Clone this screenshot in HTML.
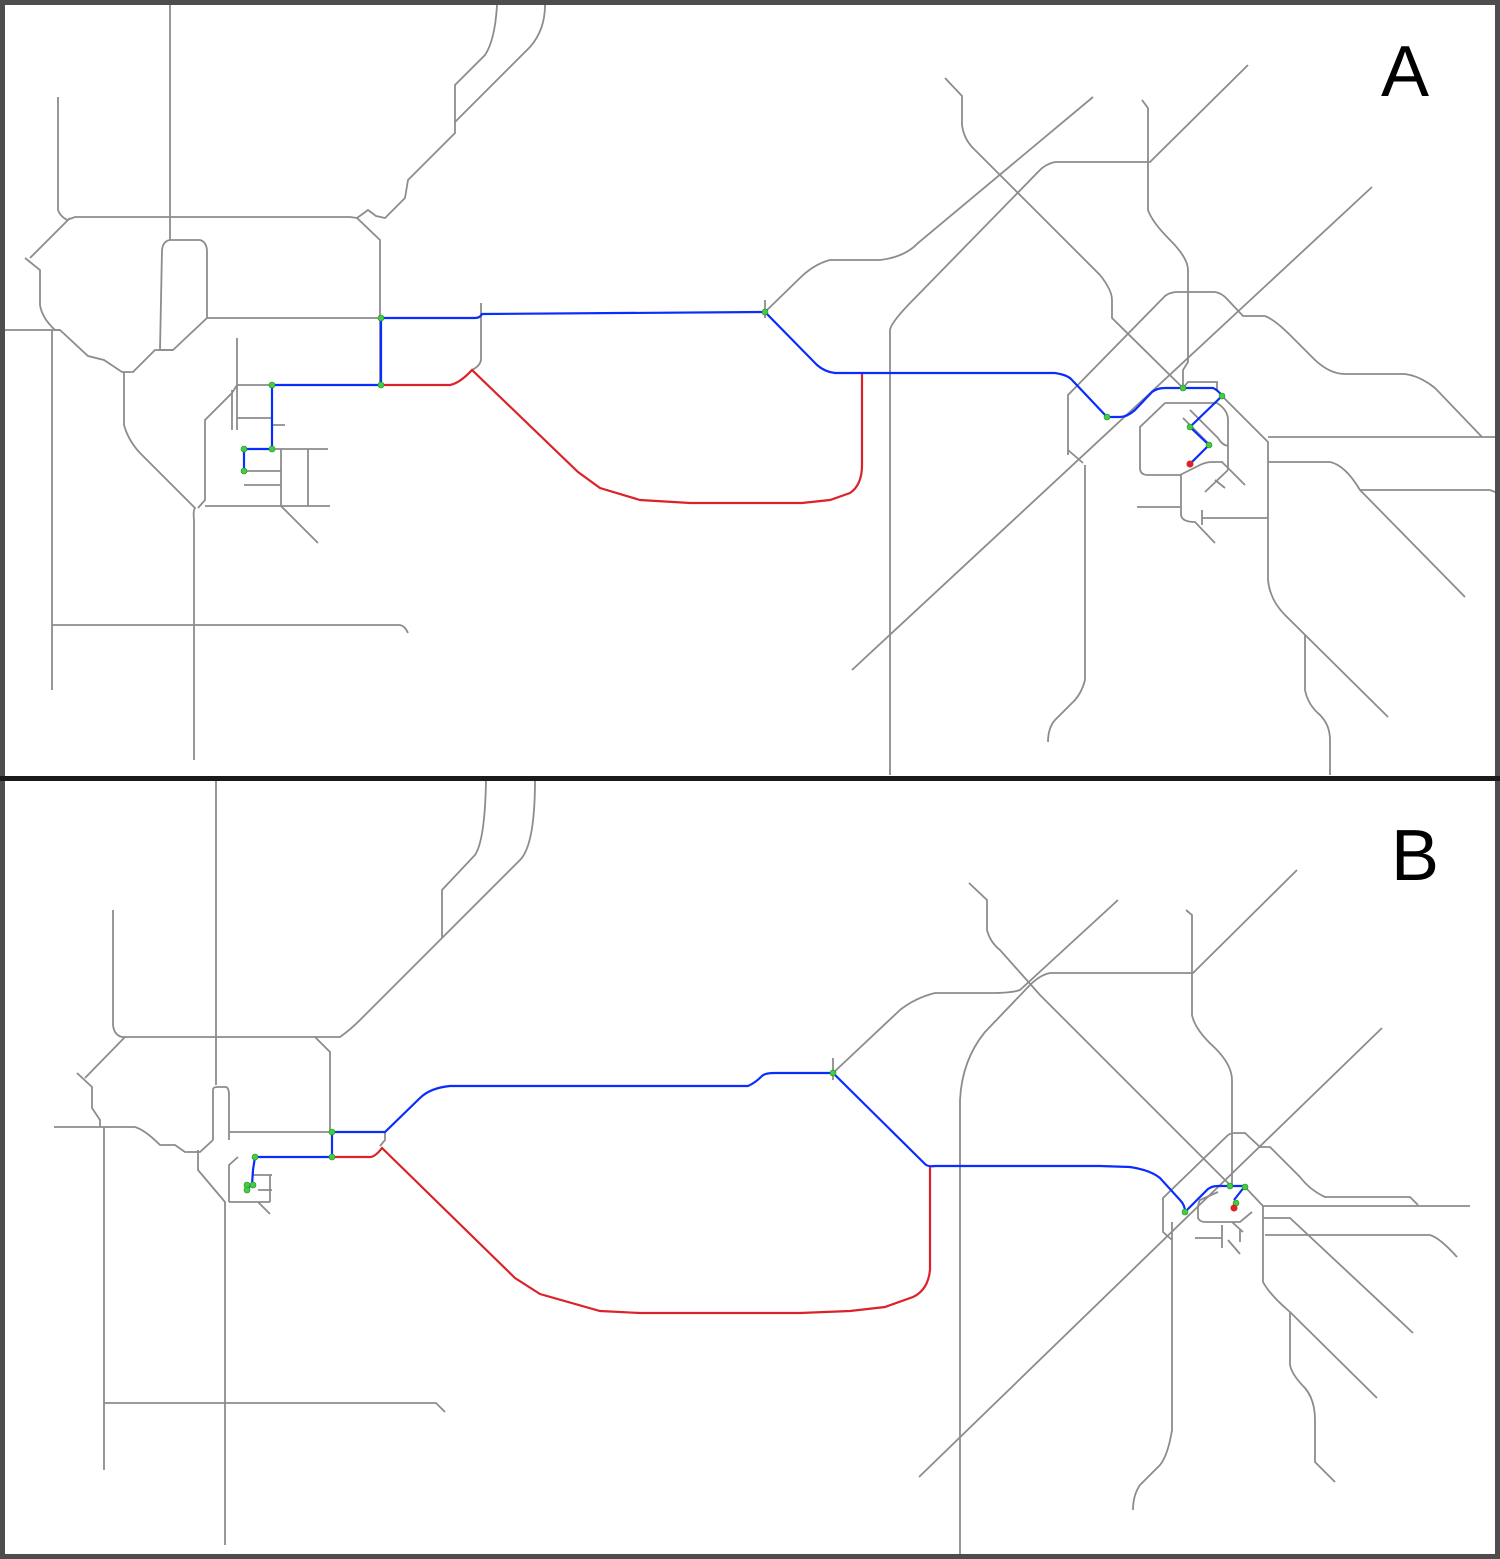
<!DOCTYPE html>
<html><head><meta charset="utf-8"><style>
html,body{margin:0;padding:0;background:#fff}
svg{display:block}
.g{fill:none;stroke:#8c8c8c;stroke-width:1.8}
.b{fill:none;stroke:#0a2cff;stroke-width:2.2}
.r{fill:none;stroke:#dc2229;stroke-width:2.2}
.n{fill:#3fcf3f;stroke:#2a8a2a;stroke-width:0.6}
text{font-family:"Liberation Sans",sans-serif}
</style></head><body>
<svg width="1500" height="1559" viewBox="0 0 1500 1559">
<rect x="0" y="0" width="1500" height="1559" fill="#fff"/>
<g>
<path class="g" d="M170,5 V240 M170,240 H200 Q207,242 207,252 V318 L173,350 H160 L162,250 Q163,241 170,240"/>
<path class="g" d="M58,97 V210 Q60,216 67,220 L75,217 H350 L357,218 L380,240 V385"/>
<path class="g" d="M70,218 L30,258 M25,258 L40,270 V305 Q42,318 55,330 H60 L88,356 L104,360 L122,372 H133 L155,350 H173"/>
<path class="g" d="M5,330 H60 M52,330 V690 M207,318 H380"/>
<path class="g" d="M357,218 L368,210 L376,216 L385,218 L405,198 L408,180 L455,133 V85 L485,55 Q495,40 497,5 M455,122 L530,47 Q545,30 545,5"/>
<path class="g" d="M124,372 V425 Q128,440 140,453 L195,508 Q193,510 194,520 V760"/>
<path class="g" d="M198,508 L205,500 V420 L232,393 L237,385 H272 M237,338 V430 M237,418 H272 M272,425 H285 M244,449 H328 M244,471 H281 M244,485 H281 M205,506 H330 M281,449 V506 M308,449 V506 M281,506 L318,543 M232,390 V430"/>
<path class="g" d="M52,625 H400 Q405,626 408,633"/>
<path class="g" d="M481,303 V360 Q480,366 472,370"/>
<path class="g" d="M852,670 L1372,187"/>
<path class="g" d="M1248,65 L1150,162 H1055 Q1045,164 1038,172 L915,298 Q891,322 890,330 V775"/>
<path class="g" d="M1093,97 L918,243 Q905,257 880,260 H830 Q815,264 802,276 L765,312 M765,300 V318"/>
<path class="g" d="M945,78 L962,96 V125 Q964,140 975,150 L1100,275 Q1112,290 1112,300 V318 L1183,388"/>
<path class="g" d="M1142,100 L1148,108 V210 Q1152,222 1170,240 Q1188,258 1188,270 V362 L1183,370 V388"/>
<path class="g" d="M1068,455 V395 L1165,296 Q1170,292 1178,292 H1215 Q1222,293 1228,300 L1243,316 H1265 Q1275,320 1290,335 L1315,360 Q1330,374 1345,374 H1405 Q1420,376 1435,388 L1482,437 M1068,450 L1083,463"/>
<path class="g" d="M1165,403 H1217 Q1228,410 1228,420 V470 M1165,403 L1140,427 V468 Q1140,475 1148,475 H1180 L1198,466 Q1205,462 1212,462 H1222 L1245,485 M1205,492 L1228,470 M1183,418 L1210,445 M1190,410 L1218,438 Q1222,445 1228,446 M1215,480 L1225,488 M1183,388 L1188,382 H1217 V390"/>
<path class="g" d="M1222,396 L1268,442 V580 Q1270,600 1285,615 L1388,717 M1268,437 H1495"/>
<path class="g" d="M1268,462 H1330 Q1345,465 1360,490 L1465,597 M1360,490 H1490 Q1495,492 1495,492"/>
<path class="g" d="M1085,465 V680 Q1082,692 1075,700 L1055,720 Q1048,728 1048,742"/>
<path class="g" d="M1305,635 V690 Q1308,705 1320,715 Q1330,725 1330,740 V775"/>
<path class="g" d="M1202,518 H1268 M1202,510 V525 M1181,475 V515 Q1182,522 1195,522 L1215,543 M1137,507 H1180"/>
</g>
<g>
<path class="r" d="M381,385 H450 Q460,383 472,370 L578,472 L600,488 L640,500 L690,503 H802 L830,500 L850,493 Q862,485 862,465 V373"/>
<path class="b" d="M244,471 V449 H272 V385 H381 V318 H475 Q480,318 482,314 L765,312 L817,365 Q825,372 835,373 H1055 Q1068,375 1072,380 L1107,417 H1120 Q1127,417 1135,410 L1152,392 Q1157,388 1165,388 H1213 Q1218,390 1222,396 L1190,427 L1209,445 L1190,464"/>
<g>
<circle class="n" cx="381" cy="318" r="3"/><circle class="n" cx="381" cy="385" r="3"/><circle class="n" cx="272" cy="385" r="3"/><circle class="n" cx="272" cy="449" r="3"/><circle class="n" cx="244" cy="449" r="3"/><circle class="n" cx="244" cy="471" r="3"/><circle class="n" cx="765" cy="312" r="3"/><circle class="n" cx="1107" cy="417" r="3"/><circle class="n" cx="1183" cy="388" r="3"/><circle class="n" cx="1222" cy="396" r="3"/><circle class="n" cx="1190" cy="427" r="3"/><circle class="n" cx="1209" cy="445" r="3"/>
<circle cx="1190" cy="464" r="3.5" fill="#dc2229"/>
</g>
</g>
<text x="1405" y="96" font-size="72" text-anchor="middle">A</text>

<g>
<path class="g" d="M216,780 V1085 M213,1140 V1090 Q213,1087 217,1087 H226 Q229,1088 229,1095 V1140"/>
<path class="g" d="M113,910 V1025 Q114,1035 122,1037 H315 L330,1052 V1130"/>
<path class="g" d="M125,1037 L85,1078 M77,1073 L92,1087 V1108 L100,1120 V1127 M54,1127 H135 Q145,1130 160,1145 H175 L185,1152 H200 L213,1140 M104,1127 V1470"/>
<path class="g" d="M229,1132 H385 V1140 L380,1146"/>
<path class="g" d="M315,1037 H340 Q350,1030 360,1020 L520,860 Q535,845 535,780 M442,938 V890 L475,855 Q485,840 486,780"/>
<path class="g" d="M198,1150 V1170 L225,1202 V1545 M229,1202 V1165 L238,1157 M229,1202 H270 M252,1175 H272 M258,1190 H272 M270,1175 V1202 M258,1202 L270,1214"/>
<path class="g" d="M104,1403 H436 L445,1412"/>
<path class="g" d="M919,1477 L1382,1028"/>
<path class="g" d="M1297,870 L1193,973 H1050 Q1040,975 1030,985 L985,1032 Q962,1060 960,1100 V1555"/>
<path class="g" d="M1118,900 L1020,990 Q1012,993 990,993 H935 Q915,998 900,1010 L833,1073 M833,1058 V1080"/>
<path class="g" d="M969,883 L987,900 V930 Q990,942 1000,950 L1040,995 L1230,1185"/>
<path class="g" d="M1186,910 L1192,915 V1015 Q1195,1030 1215,1048 Q1232,1065 1232,1080 V1185"/>
<path class="g" d="M1172,1240 L1163,1232 V1198 L1227,1136 Q1230,1133 1235,1133 H1245 L1260,1147 H1270 L1300,1177 Q1310,1190 1325,1197 H1410 L1418,1205 M1245,1187 L1263,1206 H1470"/>
<path class="g" d="M1218,1192 L1200,1200 Q1198,1203 1198,1210 V1218 Q1200,1222 1205,1222 H1240 L1252,1212 M1232,1222 L1243,1232"/>
<path class="g" d="M1263,1206 V1282 Q1270,1295 1290,1312 L1377,1398 M1263,1218 H1290 L1413,1333 M1265,1235 H1430 Q1440,1238 1457,1257"/>
<path class="g" d="M1195,1238 H1222 M1222,1225 V1248 M1228,1240 L1240,1254 M1240,1230 V1242"/>
<path class="g" d="M1172,1222 V1430 Q1168,1455 1160,1465 L1140,1485 Q1133,1495 1133,1510"/>
<path class="g" d="M1290,1312 V1365 Q1292,1375 1305,1388 Q1315,1400 1315,1420 V1462 L1335,1482"/>
</g>
<g>
<path class="r" d="M332,1157 H370 Q375,1157 382,1148 L515,1278 L540,1294 L600,1311 L640,1313 H800 L850,1311 L885,1307 L913,1297 Q928,1290 930,1270 V1167"/>
<path class="b" d="M247,1188 L252,1185 L253,1170 L255,1157 H332 V1132 H385 L420,1098 Q430,1088 450,1086 H748 Q755,1083 762,1076 Q765,1073 775,1073 H833 L925,1164 Q928,1167 935,1166 H1100 L1130,1167 Q1150,1170 1160,1178 L1180,1200 Q1185,1205 1185,1212 L1208,1189 Q1212,1186 1218,1186 H1245 L1234,1200"/>
<g>
<circle class="n" cx="332" cy="1132" r="3"/><circle class="n" cx="332" cy="1157" r="3"/><circle class="n" cx="255" cy="1157" r="3"/><circle class="n" cx="247" cy="1185" r="3"/><circle class="n" cx="253" cy="1185" r="3"/><circle class="n" cx="247" cy="1190" r="3"/><circle class="n" cx="833" cy="1073" r="3"/><circle class="n" cx="1185" cy="1212" r="3"/><circle class="n" cx="1230" cy="1186" r="3"/><circle class="n" cx="1245" cy="1187" r="3"/><circle class="n" cx="1236" cy="1203" r="3"/>
<circle cx="1234" cy="1208" r="3.5" fill="#dc2229"/>
</g>
</g>
<text x="1415" y="880" font-size="72" text-anchor="middle">B</text>

<rect x="2.5" y="2.5" width="1495" height="1554" fill="none" stroke="#4d4d4d" stroke-width="5"/>
<line x1="0" y1="778.5" x2="1500" y2="778.5" stroke="#1a1a1a" stroke-width="5"/>
</svg>
</body></html>
